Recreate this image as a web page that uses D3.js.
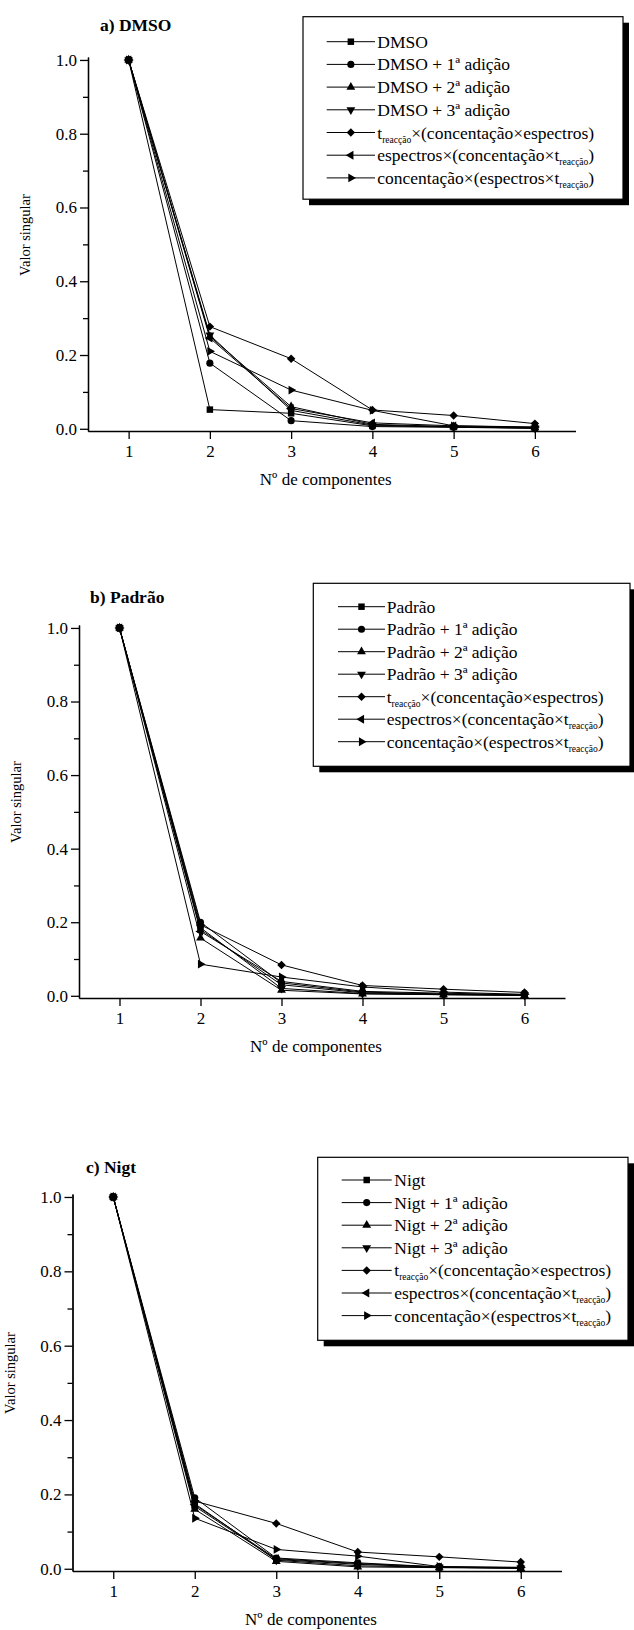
<!DOCTYPE html>
<html>
<head>
<meta charset="utf-8">
<script src="https://cdn.jsdelivr.net/npm/d3@7"></script>
<style>
body { margin: 0; background: #fff; }
svg { display: block; font-family: "Liberation Serif", "Times New Roman", serif; }
.axis path, .axis line { stroke: #000; stroke-width: 1.3; }
.axis text { font-size: 17px; fill: #000; font-family: "Liberation Serif", "Times New Roman", serif; }
.series { fill: none; stroke: #000; stroke-width: 1; }
</style>
</head>
<body>
<script>
// data
var components = [1, 2, 3, 4, 5, 6];
var yMajor = [0, 0.2, 0.4, 0.6, 0.8, 1.0];
var yMinor = [0.1, 0.3, 0.5, 0.7, 0.9];
var suffixes = ["", " + 1ª adição", " + 2ª adição", " + 3ª adição"];
var mixedLabels = [
    "t_{reacção}×(concentação×espectros)",
    "espectros×(concentação×t_{reacção})",
    "concentação×(espectros×t_{reacção})"
];
var markers = ["square", "circle", "up", "down", "diamond", "left", "right"];

var dmsoValues = [
    [1, 0.052, 0.042, 0.008, 0.005, 0.002],
    [1, 0.178, 0.022, 0.006, 0.004, 0.001],
    [1, 0.250, 0.060, 0.012, 0.006, 0.003],
    [1, 0.254, 0.050, 0.010, 0.005, 0.002],
    [1, 0.277, 0.190, 0.051, 0.036, 0.014],
    [1, 0.246, 0.055, 0.016, 0.008, 0.004],
    [1, 0.210, 0.105, 0.050, 0.008, 0.005]
];
var padraoValues = [
    [1, 0.180, 0.030, 0.008, 0.004, 0.002],
    [1, 0.200, 0.035, 0.010, 0.005, 0.002],
    [1, 0.157, 0.015, 0.005, 0.003, 0.001],
    [1, 0.185, 0.020, 0.006, 0.003, 0.001],
    [1, 0.193, 0.084, 0.028, 0.018, 0.009],
    [1, 0.175, 0.039, 0.012, 0.007, 0.003],
    [1, 0.086, 0.051, 0.024, 0.010, 0.004]
];
var nigtValues = [
    [1, 0.168, 0.025, 0.012, 0.004, 0.002],
    [1, 0.191, 0.029, 0.016, 0.005, 0.002],
    [1, 0.160, 0.020, 0.005, 0.003, 0.001],
    [1, 0.175, 0.023, 0.008, 0.004, 0.002],
    [1, 0.182, 0.122, 0.045, 0.032, 0.018],
    [1, 0.172, 0.027, 0.014, 0.005, 0.003],
    [1, 0.136, 0.052, 0.034, 0.006, 0.004]
];

// layout of the three panels
var panels = [
    { name: "DMSO", title: "a) DMSO", values: dmsoValues,
      xr: [88, 575.5], yr: [431, 57], titlePos: [100, 31], yLab: [30, 235],
      legend: { x: 303, y: 16.7, w: 320, h: 182.5, row0: 41.7, dy: 22.7, lx: [326.7, 375], tx: 377.3 } },
    { name: "Padrão", title: "b) Padrão", values: padraoValues,
      xr: [79, 565], yr: [998, 625], titlePos: [90, 603], yLab: [21, 802],
      legend: { x: 313.3, y: 583.3, w: 316.7, h: 183, row0: 606.7, dy: 22.5, lx: [338, 385], tx: 386.7 } },
    { name: "Nigt", title: "c) Nigt", values: nigtValues,
      xr: [72.5, 561.5], yr: [1571, 1194], titlePos: [86, 1173], yLab: [14.5, 1373],
      legend: { x: 317.7, y: 1157.3, w: 310.3, h: 183, row0: 1180, dy: 22.6, lx: [341.7, 391.7], tx: 394.3 } }
];

var width = 634, height = 1630;

var svg = d3.select("body").append("svg")
    .attr("width", width)
    .attr("height", height);

function symbolPath(m) {
    var type = d3.symbolTriangle, size = 34, rot = 0;
    if (m == "square") { type = d3.symbolSquare; size = 42; }
    if (m == "circle") { type = d3.symbolCircle; size = 40; }
    if (m == "down") rot = 180;
    if (m == "left") rot = -90;
    if (m == "right") rot = 90;
    if (m == "diamond") { type = d3.symbolSquare; size = 36; rot = 45; }
    return { d: d3.symbol().type(type).size(size)(), rot: rot };
}

function drawMarker(g, m, x, y) {
    var s = symbolPath(m);
    g.append("path")
        .attr("d", s.d)
        .attr("transform", "translate(" + x + "," + y + ") rotate(" + s.rot + ")")
        .attr("fill", "#000");
}

function addLabel(text, str) {
    var parts = str.split(/_\{([^}]*)\}/);
    var shifted = false;
    parts.forEach(function(p, i) {
        if (!p) return;
        var t = text.append("tspan").text(p);
        if (i % 2 == 1) {
            t.attr("font-size", "9.5px").attr("dy", 4);
            shifted = true;
        } else if (shifted) {
            t.attr("dy", -4);
            shifted = false;
        }
    });
}

panels.forEach(function(p) {
    var x = d3.scaleLinear().domain([0.5, 6.5]).range(p.xr);
    var y = d3.scaleLinear().domain([-0.006, 1.008]).range(p.yr);
    var g = svg.append("g");

    // axes
    g.append("g")
        .attr("class", "axis")
        .attr("transform", "translate(" + p.xr[0] + ",0)")
        .call(d3.axisLeft(y).tickValues(yMinor).tickSize(5).tickSizeOuter(0).tickFormat(""));
    g.append("g")
        .attr("class", "axis")
        .attr("transform", "translate(" + p.xr[0] + ",0)")
        .call(d3.axisLeft(y).tickValues(yMajor).tickSize(8).tickSizeOuter(0)
            .tickPadding(3).tickFormat(d3.format(".1f")));
    g.append("g")
        .attr("class", "axis")
        .attr("transform", "translate(0," + p.yr[0] + ")")
        .call(d3.axisBottom(x).tickValues(components).tickSize(8).tickSizeOuter(0)
            .tickPadding(6).tickFormat(d3.format("d")));

    // titles
    g.append("text")
        .attr("x", p.titlePos[0]).attr("y", p.titlePos[1])
        .attr("font-size", "17.5px").attr("font-weight", "bold")
        .text(p.title);
    g.append("text")
        .attr("x", (p.xr[0] + p.xr[1]) / 2 - 6).attr("y", p.yr[0] + 54)
        .attr("text-anchor", "middle").attr("font-size", "17px")
        .text("Nº de componentes");
    g.append("text")
        .attr("transform", "translate(" + p.yLab[0] + "," + p.yLab[1] + ") rotate(-90)")
        .attr("text-anchor", "middle").attr("font-size", "14.5px")
        .text("Valor singular");

    // lines
    var line = d3.line()
        .x(function(d, i) { return x(components[i]); })
        .y(function(d) { return y(d); });
    p.values.forEach(function(vals) {
        g.append("path").attr("class", "series").attr("d", line(vals));
    });

    // markers, circle series on top
    [0, 2, 3, 4, 5, 6, 1].forEach(function(k) {
        p.values[k].forEach(function(v, i) {
            drawMarker(g, markers[k], x(components[i]), y(v));
        });
    });

    // legend with drop shadow
    var L = p.legend;
    g.append("rect")
        .attr("x", L.x + 6).attr("y", L.y + 6).attr("width", L.w).attr("height", L.h)
        .attr("fill", "#000");
    g.append("rect")
        .attr("x", L.x).attr("y", L.y).attr("width", L.w).attr("height", L.h)
        .attr("fill", "#fff").attr("stroke", "#000").attr("stroke-width", 1.2);

    var labels = suffixes.map(function(s) { return p.name + s; }).concat(mixedLabels);
    labels.forEach(function(lab, k) {
        var cy = L.row0 + k * L.dy;
        g.append("line")
            .attr("x1", L.lx[0]).attr("x2", L.lx[1]).attr("y1", cy).attr("y2", cy)
            .attr("stroke", "#000").attr("stroke-width", 1);
        drawMarker(g, markers[k], (L.lx[0] + L.lx[1]) / 2, cy);
        var t = g.append("text")
            .attr("x", L.tx).attr("y", cy + 6)
            .attr("font-size", "17.5px");
        addLabel(t, lab);
    });
});
</script>
</body>
</html>
